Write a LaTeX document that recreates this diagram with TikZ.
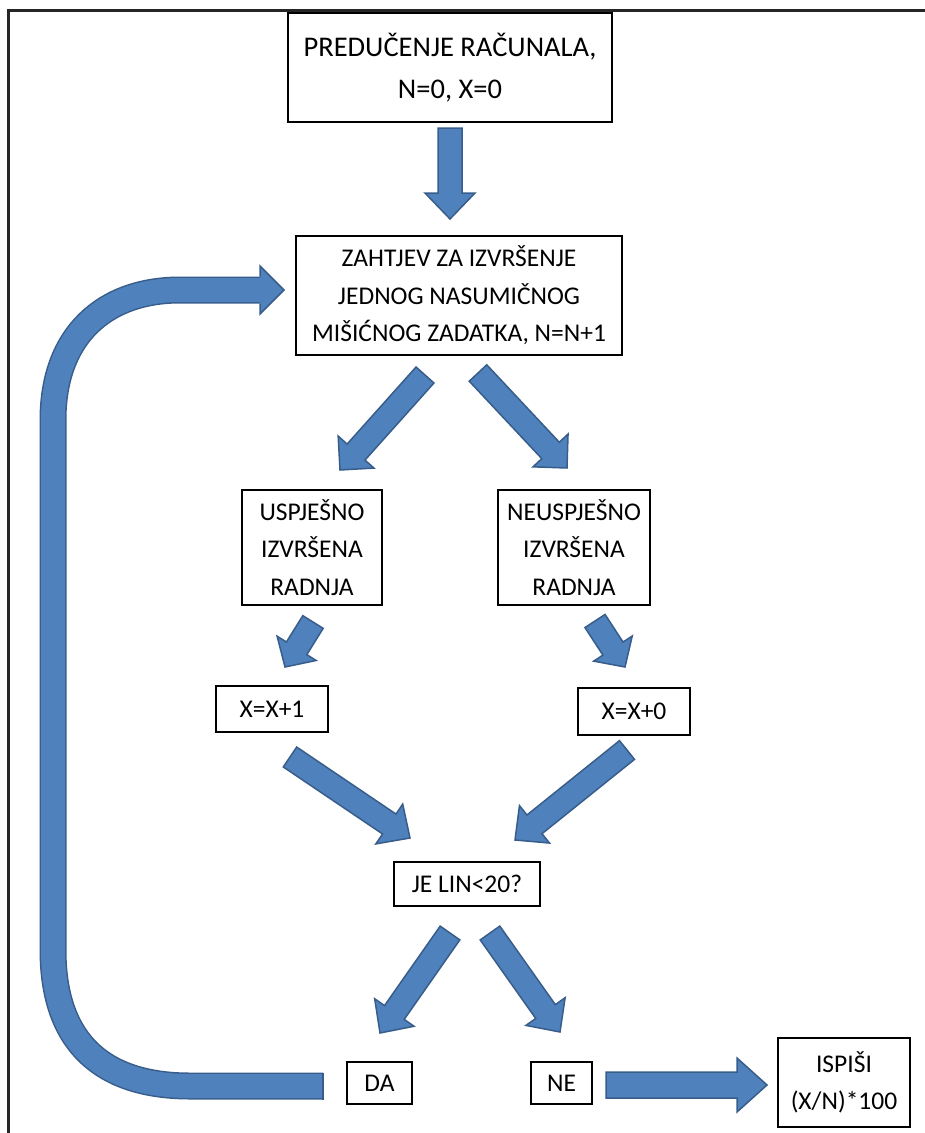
\documentclass[tikz,border=0pt]{standalone}
\usepackage{fontspec}
\setmainfont{Carlito}
\usetikzlibrary{calc}
\definecolor{arrfill}{HTML}{4F81BD}
\definecolor{arrline}{HTML}{385D8A}
\tikzset{
  box/.style={draw=black, line width=1.7pt, fill=white, inner sep=0pt, align=center,
    font=\fontsize{25.5}{37.5}\selectfont},
  blockarr/.style={fill=arrfill, draw=arrline, line width=1.5pt, line join=miter},
}
% tail, tip, half shaft, half head, head length
\newcommand\blockarrow[5]{%
  \filldraw[blockarr] let \p1=(#1), \p2=(#2), \n1={atan2(\y2-\y1,\x2-\x1)},
    \n2={veclen(\x2-\x1,\y2-\y1)} in
    ($(\p1)+(\n1+90:#3)$) -- ($(\p1)+(\n1:\n2-#5)+(\n1+90:#3)$)
    -- ($(\p1)+(\n1:\n2-#5)+(\n1+90:#4)$) -- (\p2)
    -- ($(\p1)+(\n1:\n2-#5)+(\n1-90:#4)$) -- ($(\p1)+(\n1:\n2-#5)+(\n1-90:#3)$)
    -- ($(\p1)+(\n1-90:#3)$) -- cycle;}
\begin{document}
\begin{tikzpicture}[x=1pt,y=-1pt]
\useasboundingbox (0,0) rectangle (925,1133);
\clip (0,0) rectangle (925,1133);
\draw[line width=3pt, black!85] (8,10) rectangle (950,1160);

% boxes
\node[box, minimum width=324pt, minimum height=109pt, font=\fontsize{28.5}{42}\selectfont]
  (start) at (450,67.5) {PREDUČENJE RAČUNALA,\\N=0, X=0};
\node[box, minimum width=326pt, minimum height=119pt] (task) at (459,295.5)
  {ZAHTJEV ZA IZVRŠENJE\\JEDNOG NASUMIČNOG\\MIŠIĆNOG ZADATKA, N=N+1};
\node[box, minimum width=140pt, minimum height=115pt] (ok) at (312,547.5)
  {USPJEŠNO\\IZVRŠENA\\RADNJA};
\node[box, minimum width=152pt, minimum height=115pt] (fail) at (574,547.5)
  {NEUSPJEŠNO\\IZVRŠENA\\RADNJA};
\node[box, minimum width=112pt, minimum height=46pt] (xplus) at (272,709) {X=X+1};
\node[box, minimum width=112pt, minimum height=47pt] (xzero) at (634,711.5) {X=X+0};
\node[box, minimum width=146pt, minimum height=44pt] (test) at (467,884) {JE LIN<20?};
\node[box, minimum width=65pt, minimum height=42pt] (da) at (379.5,1083) {DA};
\node[box, minimum width=61pt, minimum height=42pt] (ne) at (561.5,1083) {NE};
\node[box, minimum width=132pt, minimum height=89pt] (out) at (844,1082.5)
  {ISPIŠI\\(X/N)*100};

% arrow end points
\coordinate (a1t) at (450,128);  \coordinate (a1h) at (450,219);
\coordinate (a2t) at (425,375);  \coordinate (a2h) at (340,470);
\coordinate (a3t) at (478,373);  \coordinate (a3h) at (567,468);
\coordinate (a4t) at (313,622);  \coordinate (a4h) at (285,667);
\coordinate (a5t) at (595,621);  \coordinate (a5h) at (625,667);
\coordinate (a6t) at (290,757);  \coordinate (a6h) at (410,838);
\coordinate (a7t) at (627,750);  \coordinate (a7h) at (515,840);
\coordinate (a8t) at (450,933);  \coordinate (a8h) at (380,1033);
\coordinate (a9t) at (490,933);  \coordinate (a9h) at (560,1032);
\coordinate (a10t) at (606,1085); \coordinate (a10h) at (767,1085);

\blockarrow{a1t}{a1h}{12pt}{25pt}{26pt}
\blockarrow{a2t}{a2h}{12pt}{24pt}{24pt}
\blockarrow{a3t}{a3h}{12pt}{24pt}{24pt}
\blockarrow{a4t}{a4h}{12pt}{23pt}{22pt}
\blockarrow{a5t}{a5h}{12pt}{23pt}{22pt}
\blockarrow{a6t}{a6h}{12pt}{24pt}{25pt}
\blockarrow{a7t}{a7h}{12pt}{24pt}{25pt}
\blockarrow{a8t}{a8h}{12pt}{24pt}{25pt}
\blockarrow{a9t}{a9h}{12pt}{24pt}{25pt}
\blockarrow{a10t}{a10h}{13pt}{27pt}{30pt}

% curved return arrow DA -> task
\coordinate (ctail) at (323,1086);
\coordinate (chead) at (284,290);
\draw[line width=27pt, arrline] (ctail) -- (190,1086)
  .. controls (100,1086) and (53,1040) .. (53,950) -- (53,420)
  .. controls (53,335) and (105,290) .. (180,290) -- (261,290);
\draw[line width=24pt, arrfill] (ctail) -- (190,1086)
  .. controls (100,1086) and (53,1040) .. (53,950) -- (53,420)
  .. controls (53,335) and (105,290) .. (180,290) -- (261,290);
\fill[arrfill] (260,277) -- (260,266) -- (chead) -- (260,314) -- (260,303) -- cycle;
\draw[arrline, line width=1.5pt, line join=miter] (260,276.5) -- (260,266) -- (chead) -- (260,314) -- (260,303.5);
\draw[arrline, line width=1.5pt] (323,1072.5) -- (323,1099.5);
\end{tikzpicture}
\end{document}
